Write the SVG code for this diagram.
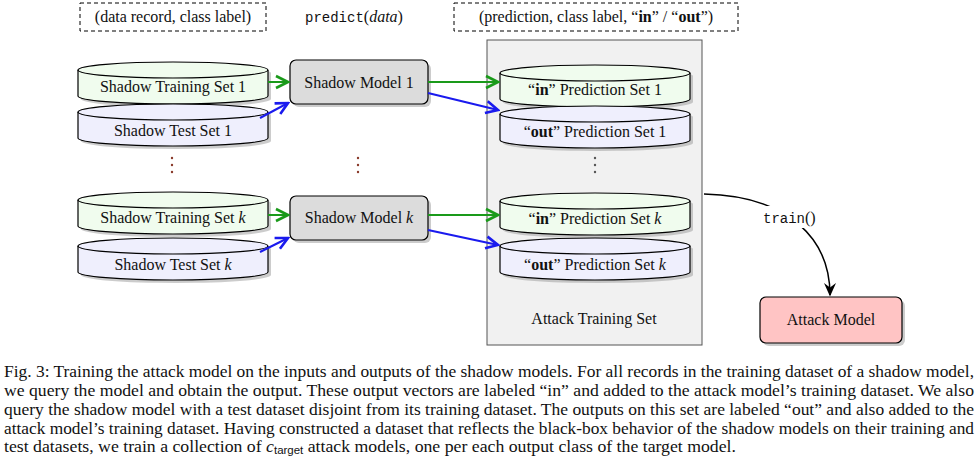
<svg xmlns="http://www.w3.org/2000/svg" width="980" height="460" viewBox="0 0 980 460" font-family="'Liberation Serif', 'Times New Roman', serif">
<style>
text{font-family:"Liberation Serif","Times New Roman",serif;font-size:16px;fill:#111}
.m{font-family:"Liberation Mono",monospace;font-size:14px}
.c{text-anchor:middle}
.cap{font-size:17px}
.cyl{stroke:#000;stroke-width:1.2}
.g{fill:#f0fcee}.b{fill:#efeffd}
.sh{fill:#999;opacity:.5}
.dash{fill:#fff;stroke:#000;stroke-dasharray:4 3}
.ga{stroke:#1a9a1a;stroke-width:2;fill:none;marker-end:url(#ag)}
.ba{stroke:#1a1aee;stroke-width:2;fill:none;marker-end:url(#ab)}
.dot{fill:#8a3a2a}
</style>
<defs>
<marker id="ag" markerWidth="8" markerHeight="8" refX="7" refY="4" orient="auto"><path d="M1,1 L7,4 L1,7" fill="none" stroke="#1a9a1a" stroke-width="1.3"/></marker>
<marker id="ab" markerWidth="8" markerHeight="8" refX="7" refY="4" orient="auto"><path d="M1,1 L7,4 L1,7" fill="none" stroke="#1a1aee" stroke-width="1.3"/></marker>
<marker id="ak" markerWidth="10" markerHeight="10" refX="8" refY="5" orient="auto"><path d="M0,1 L9,5 L0,9 L3,5 Z" fill="#000"/></marker>
<path id="cy" d="M0,8 A95,8 0 0 1 190,8 L190,34 A95,8 0 0 1 0,34 Z"/>
</defs>

<g id="legend">
<rect x="80" y="3" width="186" height="28" class="dash"/>
<text x="173" y="22" class="c">(data record, class label)</text>
<text x="305" y="22"><tspan class="m">predict</tspan>(<tspan font-style="italic">data</tspan>)</text>
<rect x="454" y="3" width="284" height="28" class="dash"/>
<text x="596" y="22" class="c">(prediction, class label, “<tspan font-weight="bold">in</tspan>” / “<tspan font-weight="bold">out</tspan>”)</text>
</g>

<g id="attackset"><rect x="487" y="40" width="215" height="305" fill="#f1f1f1" stroke="#555"/><text x="594" y="324" class="c">Attack Training Set</text></g>

<g id="train1"><use href="#cy" x="81" y="65" class="sh"/><use href="#cy" x="78" y="62" class="cyl g"/><path d="M78,70 A95,8 0 0 0 268,70" fill="none" stroke="#000" stroke-width="1.2"/><text x="173" y="92" class="c">Shadow Training Set 1</text></g>
<g id="test1"><use href="#cy" x="81" y="107" class="sh"/><use href="#cy" x="78" y="104" class="cyl b"/><path d="M78,112 A95,8 0 0 0 268,112" fill="none" stroke="#000" stroke-width="1.2"/><text x="173" y="136" class="c">Shadow Test Set 1</text></g>
<g id="model1"><rect x="293" y="63" width="138" height="44" rx="6" class="sh"/><rect x="290" y="60" width="138" height="44" rx="6" fill="#dcdcdc" stroke="#000" stroke-width="1.2"/><text x="359" y="88" class="c">Shadow Model 1</text></g>
<g id="in1"><use href="#cy" x="503" y="68" class="sh"/><use href="#cy" x="500" y="65" class="cyl g"/><path d="M500,73 A95,8 0 0 0 690,73" fill="none" stroke="#000" stroke-width="1.2"/><text x="595" y="95" class="c">“<tspan font-weight="bold">in</tspan>” Prediction Set 1</text></g>
<g id="out1"><use href="#cy" x="503" y="109" class="sh"/><use href="#cy" x="500" y="106" class="cyl b"/><path d="M500,114 A95,8 0 0 0 690,114" fill="none" stroke="#000" stroke-width="1.2"/><text x="595" y="137" class="c">“<tspan font-weight="bold">out</tspan>” Prediction Set 1</text></g>

<g id="dots">
<circle cx="172" cy="158" r="1.2" class="dot"/><circle cx="172" cy="165" r="1.2" class="dot"/><circle cx="172" cy="172" r="1.2" class="dot"/>
<circle cx="358" cy="158" r="1.2" class="dot"/><circle cx="358" cy="165" r="1.2" class="dot"/><circle cx="358" cy="172" r="1.2" class="dot"/>
<circle cx="595" cy="158" r="1.2" fill="#555"/><circle cx="595" cy="165" r="1.2" fill="#555"/><circle cx="595" cy="172" r="1.2" fill="#555"/>
</g>

<g id="traink"><use href="#cy" x="81" y="195" class="sh"/><use href="#cy" x="78" y="192" class="cyl g"/><path d="M78,200 A95,8 0 0 0 268,200" fill="none" stroke="#000" stroke-width="1.2"/><text x="173" y="223" class="c">Shadow Training Set <tspan font-style="italic">k</tspan></text></g>
<g id="testk"><use href="#cy" x="81" y="241" class="sh"/><use href="#cy" x="78" y="238" class="cyl b"/><path d="M78,246 A95,8 0 0 0 268,246" fill="none" stroke="#000" stroke-width="1.2"/><text x="173" y="270" class="c">Shadow Test Set <tspan font-style="italic">k</tspan></text></g>
<g id="modelk"><rect x="293" y="199" width="138" height="44" rx="6" class="sh"/><rect x="290" y="196" width="138" height="44" rx="6" fill="#dcdcdc" stroke="#000" stroke-width="1.2"/><text x="359" y="223" class="c">Shadow Model <tspan font-style="italic">k</tspan></text></g>
<g id="ink"><use href="#cy" x="503" y="196" class="sh"/><use href="#cy" x="500" y="193" class="cyl g"/><path d="M500,201 A95,8 0 0 0 690,201" fill="none" stroke="#000" stroke-width="1.2"/><text x="595" y="224" class="c">“<tspan font-weight="bold">in</tspan>” Prediction Set <tspan font-style="italic">k</tspan></text></g>
<g id="outk"><use href="#cy" x="503" y="241" class="sh"/><use href="#cy" x="500" y="238" class="cyl b"/><path d="M500,246 A95,8 0 0 0 690,246" fill="none" stroke="#000" stroke-width="1.2"/><text x="595" y="270" class="c">“<tspan font-weight="bold">out</tspan>” Prediction Set <tspan font-style="italic">k</tspan></text></g>

<g id="attack"><rect x="763" y="300" width="142" height="46" rx="6" class="sh"/><rect x="760" y="297" width="142" height="46" rx="6" fill="#ffc4c4" stroke="#000" stroke-width="1.2"/><text x="831" y="325" class="c">Attack Model</text></g>

<g id="connectors">
<path d="M268,82 L288,82" class="ga"/>
<path d="M260,118 L288,103" class="ba"/>
<path d="M428,82 L498,82" class="ga"/>
<path d="M428,93 L498,110" class="ba"/>
<path d="M268,215 L288,215" class="ga"/>
<path d="M260,252 L288,238" class="ba"/>
<path d="M428,215 L498,215" class="ga"/>
<path d="M428,230 L498,245" class="ba"/>
<path d="M704,194 C790,196 830,240 830,295" stroke="#000" stroke-width="1.5" fill="none" marker-end="url(#ak)"/>
<rect x="758" y="206" width="64" height="22" fill="#fff"/>
<text x="763" y="223"><tspan class="m">train</tspan>()</text>
</g>

<g id="caption">
<text x="4" y="377" class="cap" textLength="970" lengthAdjust="spacingAndGlyphs">Fig. 3: Training the attack model on the inputs and outputs of the shadow models. For all records in the training dataset of a shadow model,</text>
<text x="4" y="396" class="cap" textLength="970" lengthAdjust="spacingAndGlyphs">we query the model and obtain the output. These output vectors are labeled “in” and added to the attack model’s training dataset. We also</text>
<text x="4" y="415" class="cap" textLength="970" lengthAdjust="spacingAndGlyphs">query the shadow model with a test dataset disjoint from its training dataset. The outputs on this set are labeled “out” and also added to the</text>
<text x="4" y="434" class="cap" textLength="970" lengthAdjust="spacingAndGlyphs">attack model’s training dataset. Having constructed a dataset that reflects the black-box behavior of the shadow models on their training and</text>
<text x="4" y="452" class="cap" textLength="732" lengthAdjust="spacingAndGlyphs">test datasets, we train a collection of <tspan font-style="italic">c</tspan><tspan font-size="11" dy="2" font-family="Liberation Sans">target</tspan><tspan dy="-2"> attack models, one per each output class of the target model.</tspan></text>
</g>
</svg>
